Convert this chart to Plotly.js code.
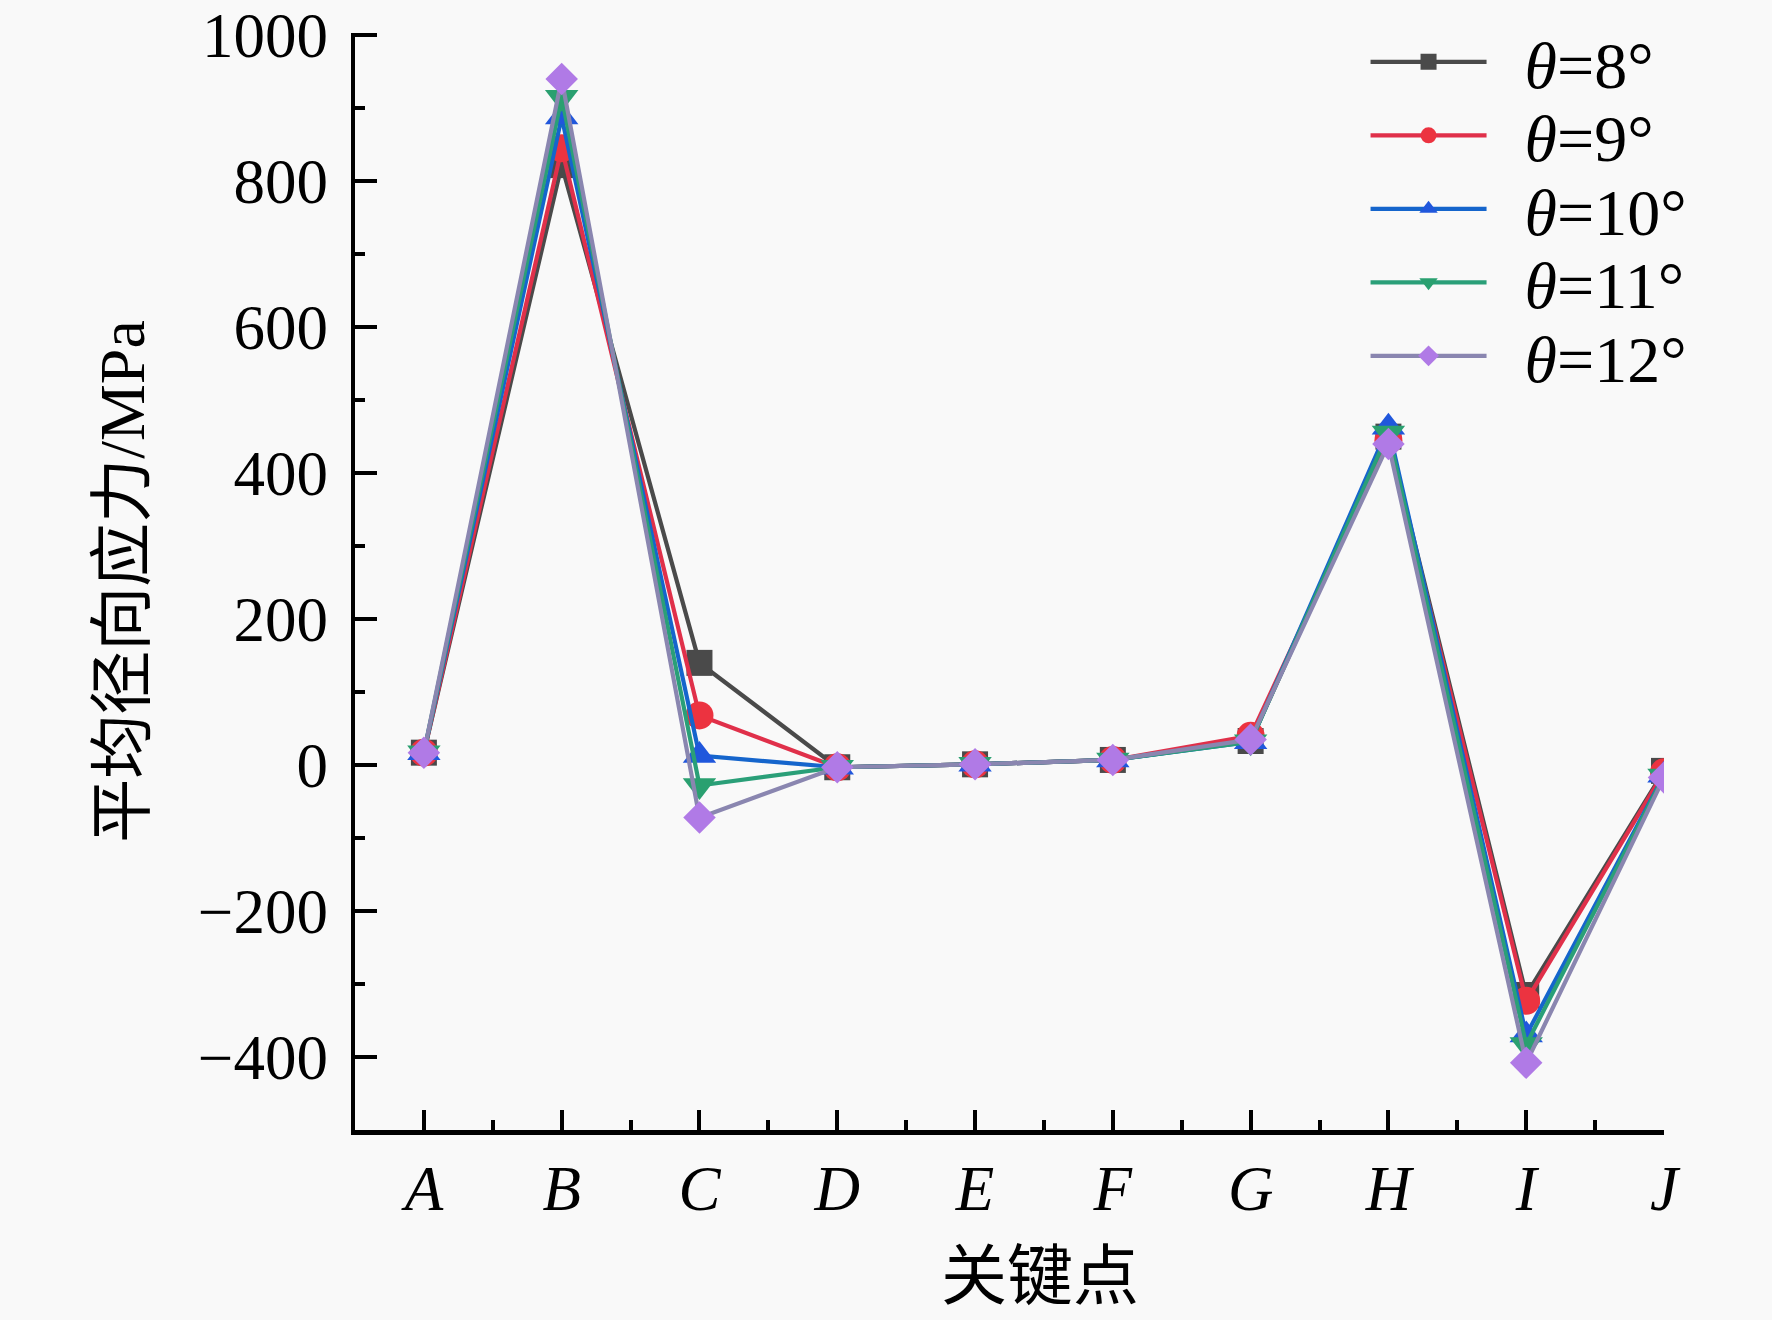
<!DOCTYPE html>
<html>
<head>
<meta charset="utf-8">
<script src="https://cdn.plot.ly/plotly-3.0.1.min.js"></script>
<style>
  html, body { margin: 0; padding: 0; background: #f9f9f9; }
  #chart { width: 1772px; height: 1320px; }
</style>
</head>
<body>
<div id="chart"></div>
<script>
// key points along the profile
const points = ['A', 'B', 'C', 'D', 'E', 'F', 'G', 'H', 'I', 'J'];

// mean radial stress (MPa) for each cone angle
const theta8  = [17, 822, 140, -3, 1, 7, 33, 450, -315, -8];
const theta9  = [17, 845, 68, -3, 1, 7, 40, 445, -323, -10];
const theta10 = [17, 888, 13, -3, 1, 7, 32, 463, -370, -14];
const theta11 = [17, 915, -28, -3, 1, 7, 32, 455, -383, -15];
const theta12 = [17, 940, -72, -3, 1, 7, 35, 440, -408, -17];

const seriesNames = ['<i>θ</i>=8°', '<i>θ</i>=9°', '<i>θ</i>=10°', '<i>θ</i>=11°', '<i>θ</i>=12°'];

const FONT = 'Liberation Serif, "Noto Sans CJK SC", serif';
const BG = '#f9f9f9';

const STYLES = [
  { line: '#4a4a4a', marker: '#4a4a4a', symbol: 'square', size: 26 },
  { line: '#e0304a', marker: '#ec3340', symbol: 'circle', size: 28 },
  { line: '#1565cc', marker: '#2057dc', symbol: 'triangle-up', size: 29 },
  { line: '#2a9f78', marker: '#2aa070', symbol: 'triangle-down', size: 29 },
  { line: '#8a86b0', marker: '#b07ae6', symbol: 'diamond', size: 25 },
];

// one legend per series so the rows sit where the reference has them
const legendRowY = [0.9736, 0.9066, 0.8396, 0.7726, 0.7056];

const idx = points.map((_, i) => i);
const allSeries = [theta8, theta9, theta10, theta11, theta12];

const traces = allSeries.map((ys, k) => ({
  x: idx, y: ys,
  type: 'scatter', mode: 'lines+markers',
  name: '\u2002' + seriesNames[k],
  legend: k === 0 ? 'legend' : 'legend' + (k + 1),
  line: { color: STYLES[k].line, width: 4.2 },
  marker: { symbol: STYLES[k].symbol, size: STYLES[k].size, color: STYLES[k].marker, line: { width: 0 } },
}));

const legendBase = {
  x: 0.772, xanchor: 'left', yanchor: 'middle',
  bgcolor: 'rgba(0,0,0,0)',
  font: { family: FONT, size: 66, color: '#000' },
  itemwidth: 116,
  itemsizing: 'trace',
};

const layout = {
  width: 1772, height: 1320,
  paper_bgcolor: BG,
  plot_bgcolor: BG,
  font: { family: FONT, color: '#000', size: 62 },
  margin: { l: 355, r: 108, t: 31, b: 190 },
  showlegend: true,
  xaxis: {
    range: [-0.5, 9],
    tickmode: 'array',
    tickvals: idx,
    ticktext: points.map(p => '<i>' + p + '</i>'),
    ticks: 'inside', ticklen: 20, tickwidth: 4, tickcolor: '#000',
    minor: { tick0: 0.5, dtick: 1, ticks: 'inside', ticklen: 10, tickwidth: 4, tickcolor: '#000' },
    showline: true, linecolor: '#000', linewidth: 4.5,
    showgrid: false, zeroline: false,
    tickfont: { family: FONT, size: 63 },
    ticklabelstandoff: 0,
  },
  yaxis: {
    range: [-500, 1003],
    tick0: 0, dtick: 200,
    ticks: 'inside', ticklen: 22, tickwidth: 4, tickcolor: '#000',
    minor: { dtick: 100, ticks: 'inside', ticklen: 10, tickwidth: 4, tickcolor: '#000' },
    showline: true, linecolor: '#000', linewidth: 4.5,
    showgrid: false, zeroline: false,
    tickfont: { family: FONT, size: 63 },
    ticklabelstandoff: 10,
    title: { text: '平均径向应力/MPa', font: { family: FONT, size: 64 }, standoff: 34 },
  },
  annotations: [{
    text: '关键点', xref: 'paper', yref: 'paper',
    x: 0.523, y: -0.134, xanchor: 'center', yanchor: 'middle',
    showarrow: false, font: { family: FONT, size: 66, color: '#000' },
  }],
};

seriesNames.forEach((_, k) => {
  layout[k === 0 ? 'legend' : 'legend' + (k + 1)] = { ...legendBase, y: legendRowY[k] };
});

Plotly.newPlot('chart', traces, layout, { displayModeBar: false, staticPlot: true });
</script>
</body>
</html>
